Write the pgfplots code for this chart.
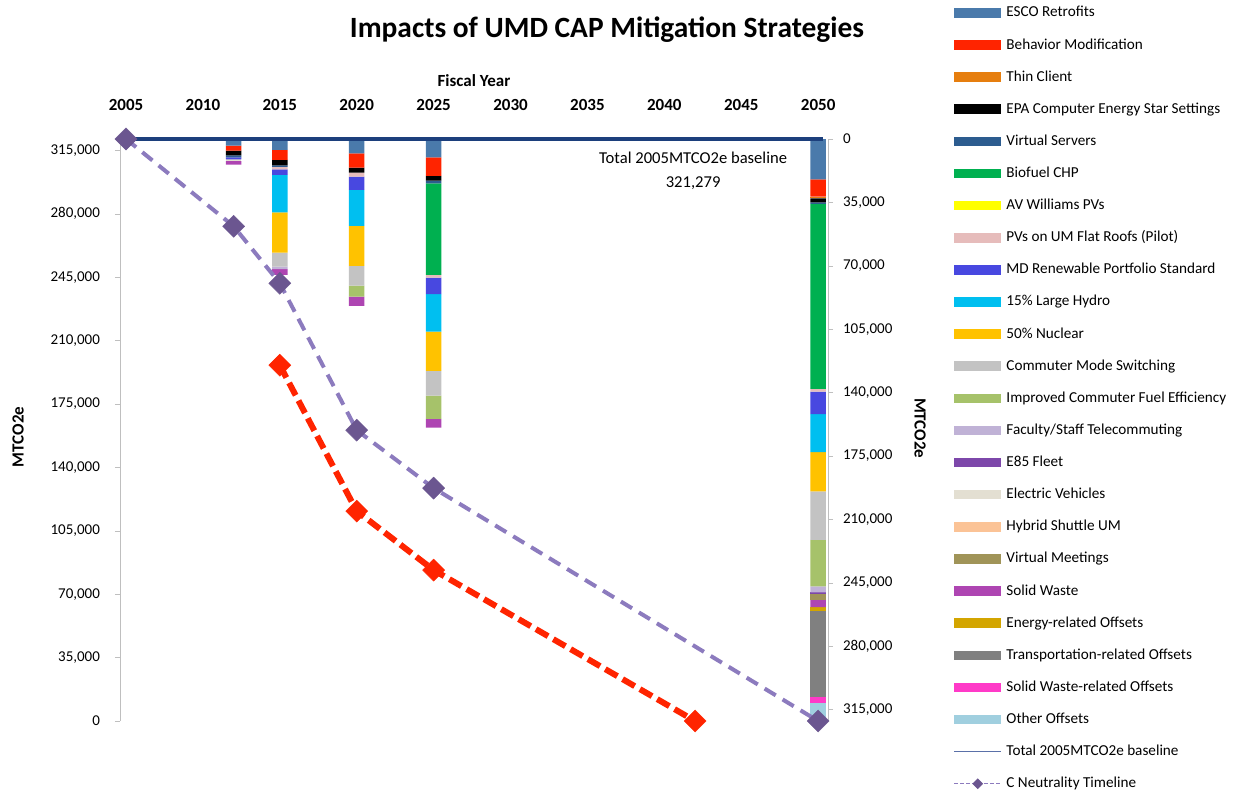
\documentclass[border=0pt]{standalone}
\usepackage{fontspec}
\setmainfont{Carlito}
\usepackage{pgfplots}
\usepackage{pgfplotstable}
\pgfplotsset{compat=1.18}

\definecolor{cEsco}{HTML}{4A7AAB}
\definecolor{cBehav}{HTML}{FF2400}
\definecolor{cThin}{HTML}{E67E0E}
\definecolor{cEpa}{HTML}{000000}
\definecolor{cVserv}{HTML}{2C5C8F}
\definecolor{cBio}{HTML}{00B050}
\definecolor{cAvw}{HTML}{FFFF00}
\definecolor{cPvs}{HTML}{E6BCBB}
\definecolor{cRps}{HTML}{4848E0}
\definecolor{cHydro}{HTML}{00BFF0}
\definecolor{cNuc}{HTML}{FFC200}
\definecolor{cComm}{HTML}{C3C3C3}
\definecolor{cFuel}{HTML}{A6C26A}
\definecolor{cFac}{HTML}{C0B2D6}
\definecolor{cEef}{HTML}{7D47AA}
\definecolor{cEv}{HTML}{E3DFD2}
\definecolor{cHyb}{HTML}{FBC396}
\definecolor{cVmeet}{HTML}{A09458}
\definecolor{cSw}{HTML}{AE45B2}
\definecolor{cEoff}{HTML}{D3A500}
\definecolor{cToff}{HTML}{808080}
\definecolor{cSwoff}{HTML}{FF3AC8}
\definecolor{cOoff}{HTML}{A0CFDF}
\definecolor{cBase}{HTML}{1C3F7C}
\definecolor{cBaseLeg}{HTML}{5A70A8}
\definecolor{cNeut}{HTML}{8C7BBE}
\definecolor{cNeutMk}{HTML}{6B5690}
\definecolor{cAxis}{HTML}{BFBFBF}

% reductions per strategy, MTCO2e (stacked down from the 2005 baseline)
\pgfplotstableread{
Year ESCO  Behav Thin EPA  VServ Bio    AVW PVs  RPS   Hydro Nuc   Comm  Fuel  Fac  EEF  EV  Hyb VMeet SW   EOff TOff  SWOff OOff
2012 3700  2650  0    2650 1100  0      0   0    1100  0     0     0     0     0    0    950 0   0     2050 0    0     0     0
2015 6070  5520  0    2920 940   0      0   1270 3140  20580 22290 7720  0     1430 0    0   0   0     3140 0    0     0     0
2020 7890  7940  0    2760 0     0      0   2210 7340  19860 22070 10870 6070  0    0    0   0   0     5130 0    0     0     0
2025 10100 10320 0    2590 1430  50590  0   1490 9160  20630 21680 13630 12850 0    0    0   0   0     4800 0    0     0     0
2050 22230 9600  880  2210 940   102060 0   1490 12470 20960 21740 26650 25760 3310 1100 0   0   2920  4030 2430 47230 3310  9770
}\strategies

\pgfplotsset{
  common/.style={
    at={(60pt,36.5pt)}, anchor=south west,
    width=354pt, height=291pt, scale only axis,
    xmin=2004.61, xmax=2050.64, ymin=0, ymax=321279,
    ytick={0,35000,...,315000}, scaled y ticks=false,
    yticklabel style={/pgf/number format/fixed, /pgf/number format/precision=0,
      /pgf/number format/1000 sep={,}},
    /pgf/number format/assume math mode=true,
    tick align=outside, major tick length=2.5pt,
    ytick style={cAxis}, y axis line style={cAxis},
    tick label style={font=\fontsize{7.5}{8}\selectfont},
    label style={font=\bfseries\fontsize{8.5}{9}\selectfont},
  },
  barleg/.style={legend image code/.code={\fill[##1, draw=none] (0pt,-2.4pt) rectangle (23.5pt,2.4pt);}},
  lineleg/.style={legend image code/.code={\draw[mark repeat=2, mark phase=2, ##1, sharp plot] plot coordinates {(0pt,0pt) (11.75pt,0pt) (23.5pt,0pt)};}},
}

\begin{document}
\begin{tikzpicture}[x=1pt,y=1pt]
\path[use as bounding box] (0,0) rectangle (620.5,397);

% bars on the right, reversed axis
\begin{axis}[common,
  y dir=reverse,
  axis x line=none, axis y line*=right,
  yticklabel shift=1.5pt,
  ylabel={MTCO2e},
  ylabel style={at={(axis description cs:1.13,0.503)}, anchor=center, rotate=180},
  ybar stacked, bar width=7.75pt,
  every axis plot/.append style={draw=none},
  legend cell align=left,
  legend style={at={(axis description cs:1.1766,1.2294)}, anchor=north west,
    draw=none, fill=none, inner sep=0pt, column sep=2.2pt, row sep=9.06pt,
    font=\fontsize{7.6}{8}\selectfont,
    nodes={inner sep=0pt, text height=5.5pt, text depth=1.5pt}},
]
\addplot[fill=cEsco, barleg] table[x=Year, y=ESCO] {\strategies};
\addlegendentry{ESCO Retrofits}
\addplot[fill=cBehav, barleg] table[x=Year, y=Behav] {\strategies};
\addlegendentry{Behavior Modification}
\addplot[fill=cThin, barleg] table[x=Year, y=Thin] {\strategies};
\addlegendentry{Thin Client}
\addplot[fill=cEpa, barleg] table[x=Year, y=EPA] {\strategies};
\addlegendentry{EPA Computer Energy Star Settings}
\addplot[fill=cVserv, barleg] table[x=Year, y=VServ] {\strategies};
\addlegendentry{Virtual Servers}
\addplot[fill=cBio, barleg] table[x=Year, y=Bio] {\strategies};
\addlegendentry{Biofuel CHP}
\addplot[fill=cAvw, barleg] table[x=Year, y=AVW] {\strategies};
\addlegendentry{AV Williams PVs}
\addplot[fill=cPvs, barleg] table[x=Year, y=PVs] {\strategies};
\addlegendentry{PVs on UM Flat Roofs (Pilot)}
\addplot[fill=cRps, barleg] table[x=Year, y=RPS] {\strategies};
\addlegendentry{MD Renewable Portfolio Standard}
\addplot[fill=cHydro, barleg] table[x=Year, y=Hydro] {\strategies};
\addlegendentry{15\% Large Hydro}
\addplot[fill=cNuc, barleg] table[x=Year, y=Nuc] {\strategies};
\addlegendentry{50\% Nuclear}
\addplot[fill=cComm, barleg] table[x=Year, y=Comm] {\strategies};
\addlegendentry{Commuter Mode Switching}
\addplot[fill=cFuel, barleg] table[x=Year, y=Fuel] {\strategies};
\addlegendentry{Improved Commuter Fuel Efficiency}
\addplot[fill=cFac, barleg] table[x=Year, y=Fac] {\strategies};
\addlegendentry{Faculty/Staff Telecommuting}
\addplot[fill=cEef, barleg] table[x=Year, y=EEF] {\strategies};
\addlegendentry{E85 Fleet}
\addplot[fill=cEv, barleg] table[x=Year, y=EV] {\strategies};
\addlegendentry{Electric Vehicles}
\addplot[fill=cHyb, barleg] table[x=Year, y=Hyb] {\strategies};
\addlegendentry{Hybrid Shuttle UM}
\addplot[fill=cVmeet, barleg] table[x=Year, y=VMeet] {\strategies};
\addlegendentry{Virtual Meetings}
\addplot[fill=cSw, barleg] table[x=Year, y=SW] {\strategies};
\addlegendentry{Solid Waste}
\addplot[fill=cEoff, barleg] table[x=Year, y=EOff] {\strategies};
\addlegendentry{Energy-related Offsets}
\addplot[fill=cToff, barleg] table[x=Year, y=TOff] {\strategies};
\addlegendentry{Transportation-related Offsets}
\addplot[fill=cSwoff, barleg] table[x=Year, y=SWOff] {\strategies};
\addlegendentry{Solid Waste-related Offsets}
\addplot[fill=cOoff, barleg] table[x=Year, y=OOff] {\strategies};
\addlegendentry{Other Offsets}
\addlegendimage{cBaseLeg, line width=0.8pt, lineleg}
\addlegendentry{Total 2005MTCO2e baseline}
\addlegendimage{cNeut, line width=0.6pt, dash pattern=on 2pt off 1pt, mark=square*, mark size=1.6pt,
  mark options={rotate=45, solid, fill=cNeutMk, draw=cNeutMk}, lineleg}
\addlegendentry{C Neutrality Timeline}
\end{axis}

% lines on the left axis
\begin{axis}[common,
  clip=false,
  axis x line*=top, axis y line*=left,
  x axis line style={draw=none}, xtick style={draw=none},
  xtick={2005,2010,...,2050},
  xticklabel style={font=\bfseries\fontsize{8.5}{9}\selectfont, /pgf/number format/fixed,
    /pgf/number format/1000 sep={}},
  xticklabel shift=8pt,
  yticklabel shift=4pt,
  xlabel={Fiscal Year},
  xlabel style={at={(axis description cs:0.5,1.0997)}, anchor=center},
  ylabel={MTCO2e},
  ylabel style={at={(axis description cs:-0.144,0.488)}, anchor=center},
]
\addplot[cBase, line width=2pt] coordinates {(2005,321279) (2050.3,321279)};
\addplot[cNeut, line width=2pt, dash pattern=on 6.5pt off 4pt, mark=square*, mark size=3.9pt,
  mark options={rotate=45, solid, fill=cNeutMk, draw=cNeutMk, line width=0.2pt}]
  coordinates {(2005,321279) (2012,273090) (2015,241640) (2020,160540) (2025,128550) (2050,0)};
\addplot[cBehav, line width=3pt, dash pattern=on 7pt off 3pt, mark=square*, mark size=3.9pt,
  mark options={rotate=45, solid, fill=cBehav, line width=0.2pt}]
  coordinates {(2015,196400) (2020,115860) (2025,83310) (2042,0)};
\node[align=center, font=\fontsize{8.3}{12}\selectfont] at (axis cs:2041.87,303965)
  {Total 2005MTCO2e baseline\\321,279};
\end{axis}

\node[font=\bfseries\fontsize{14.7}{16}\selectfont] at (303.5,382) {Impacts of UMD CAP Mitigation Strategies};
\end{tikzpicture}
\end{document}
